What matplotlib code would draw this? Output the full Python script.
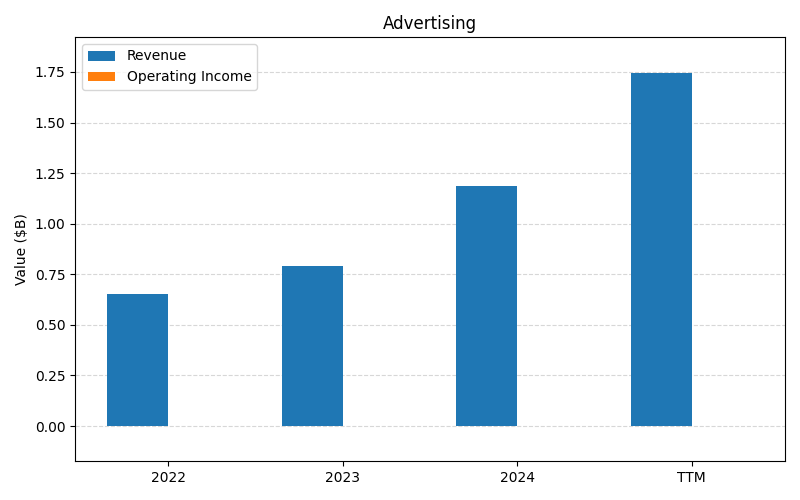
import matplotlib
matplotlib.use("Agg")
import matplotlib.pyplot as plt
import numpy as np

categories = ["2022", "2023", "2024", "TTM"]
revenue = [0.652, 0.791, 1.186, 1.745]
operating_income = [0.0, 0.0, 0.0, 0.0]

fig, ax = plt.subplots(figsize=(8, 5), dpi=100)
x = np.arange(len(categories))
w = 0.35
ax.bar(x - w/2, revenue, w, label="Revenue", color="#1f77b4")
ax.bar(x + w/2, operating_income, w, label="Operating Income", color="#ff7f0e")
ax.set_xticks(x)
ax.set_xticklabels(categories)
ax.set_ylim(-0.173, 1.923)
ax.set_ylabel("Value ($B)")
ax.set_title("Advertising")
ax.grid(axis="y", linestyle="--", alpha=0.5)
ax.set_axisbelow(True)
ax.legend(loc="upper left")
fig.subplots_adjust(left=0.094, right=0.981, top=0.926, bottom=0.078)
fig.savefig("out.png")
